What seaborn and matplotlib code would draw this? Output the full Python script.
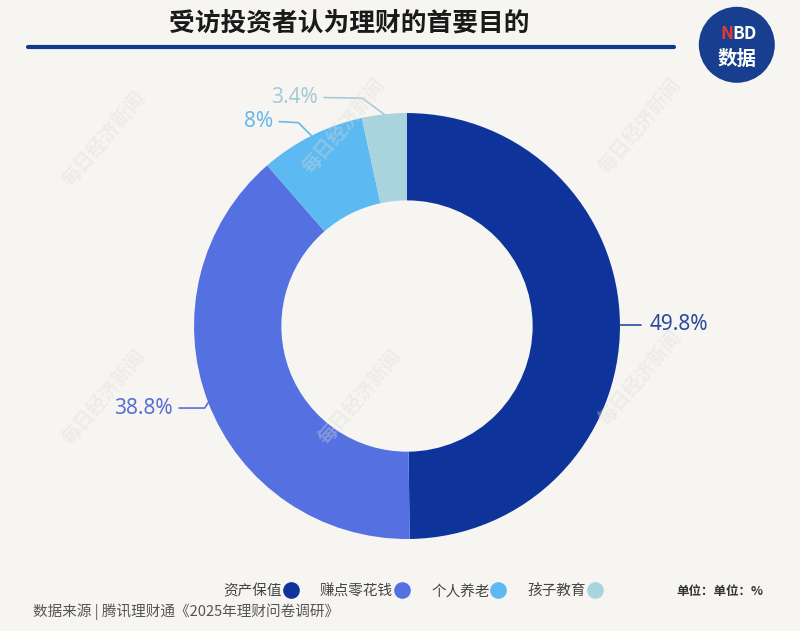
import matplotlib
matplotlib.use("Agg")
import matplotlib.pyplot as plt
import seaborn as sns
from matplotlib.patches import Circle

# data
categories = ["资产保值", "赚点零花钱", "个人养老", "孩子教育"]
values = [49.8, 38.8, 8, 3.4]
value_labels = ["49.8%", "38.8%", "8%", "3.4%"]

slice_colors = ["#0e339a", "#5571e1", "#5cb9f2", "#a9d3dd"]
label_colors = ["#2c4a9c", "#5a6fd4", "#68b9ea", "#a7cbd5"]
bg = "#f7f5f1"

sns.set_theme(style="white")
plt.rcParams['font.family'] = ['Noto Sans CJK SC', 'DejaVu Sans']

fig = plt.figure(figsize=(8, 6.31), dpi=100, facecolor=bg)

# watermarks
wm_pos = [(0.13, 0.78), (0.43, 0.80), (0.80, 0.80), (0.13, 0.37), (0.45, 0.37),
          (0.80, 0.40)]
for x, y in wm_pos:
    fig.text(x, y, "每日经济新闻", rotation=50, fontsize=14, color="#dedbd6",
             alpha=0.35, ha="center", va="center", fontweight="bold")

ax = fig.add_axes([0.2425, 0.1458, 0.5325, 0.675])
ax.set_facecolor("none")
wedges, _ = ax.pie(values, colors=slice_colors, startangle=90, counterclock=False,
                   radius=1.0, wedgeprops=dict(width=0.41, edgecolor="none"))
ax.set_xlim(-1, 1)
ax.set_ylim(-1, 1)
ax.set_aspect("equal")
ax.axis("off")

# label leader lines: (edge point, elbow point, text point, ha)
leaders = [
    ((1.0, 0.006), (1.10, 0.006), (1.14, 0.006), "left"),
    ((-0.93, -0.355), (-0.95, -0.385), (-1.10, -0.385), "right"),
    ((-0.45, 0.895), (-0.51, 0.955), (-0.63, 0.960), "right"),
    ((-0.107, 0.994), (-0.21, 1.07), (-0.42, 1.073), "right"),
]
for i, (p0, p1, pt, ha) in enumerate(leaders):
    if ha == "left":
        ax.plot([p0[0], p1[0]], [p0[1], p1[1]], color=label_colors[i], lw=1.2, clip_on=False)
    else:
        ax.plot([p0[0], p1[0], pt[0] + 0.03], [p0[1], p1[1], pt[1]], color=label_colors[i],
                lw=1.2, clip_on=False)
    ax.text(pt[0], pt[1], value_labels[i], color=label_colors[i], fontsize=15,
            ha=ha, va="center", family=["Noto Sans", "DejaVu Sans"])

# title and rule
fig.text(0.437, 0.963, "受访投资者认为理财的首要目的", fontsize=18.5, fontweight="bold",
         color="#1a1a1a", ha="center", va="center")
fig.add_artist(plt.Line2D([0.035, 0.842], [0.925, 0.925], color="#0d3b8c", lw=3))

# logo
logo = Circle((0, 0), 0.38, transform=fig.dpi_scale_trans, facecolor="#173e8f",
              edgecolor="none")
logo.center = (0.921 * 8, 0.929 * 6.31)
fig.add_artist(logo)
fig.text(0.908, 0.946, "N", color="#e63a2e", fontsize=12.5, fontweight="bold", ha="center", va="center")
fig.text(0.931, 0.946, "BD", color="white", fontsize=12.5, fontweight="bold", ha="center", va="center")
fig.text(0.921, 0.906, "数据", color="white", fontsize=14, fontweight="bold", ha="center", va="center")

# legend
handles = [plt.Line2D([], [], marker="o", ls="", markersize=12, markerfacecolor=c,
                      markeredgecolor="none") for c in slice_colors]
leg = fig.legend(handles, categories, loc="center", bbox_to_anchor=(0.516, 0.063),
                 ncol=4, frameon=False, markerfirst=False, fontsize=10.5,
                 handletextpad=0.1, columnspacing=1.5, handlelength=1.0)
for t in leg.get_texts():
    t.set_color("#444444")

fig.text(0.846, 0.063, "单位：单位：%", fontsize=9, color="#333333", ha="left", va="center",
         fontweight="bold")
fig.text(0.041, 0.030, "数据来源 | 腾讯理财通《2025年理财问卷调研》", fontsize=10.5,
         color="#555555", ha="left", va="center")

fig.savefig("out.png", dpi=100, facecolor=bg)
